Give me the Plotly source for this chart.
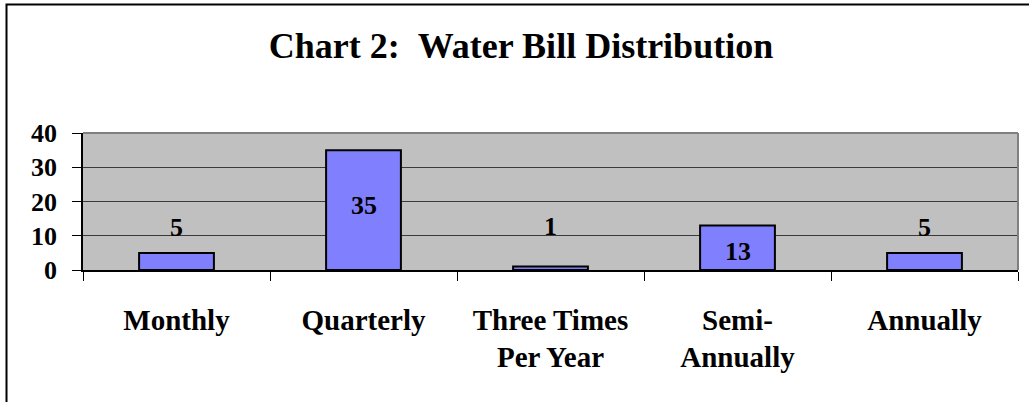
import plotly.graph_objects as go

categories = ["Monthly", "Quarterly", "Three Times<br>Per Year", "Semi-<br>Annually", "Annually"]
values = [5, 35, 1, 13, 5]
label_text = ["5", "35", "1", "13", "5"]
# pixel offsets of each data label relative to the bar top (style)
label_shift = [25, -55, 40, -26, 25]

W, H = 1029, 402
L, R, T, B = 83, 11, 133, 132
FONT = "Liberation Serif"

fig = go.Figure()
fig.add_trace(go.Bar(
    x=categories, y=values, width=0.4,
    marker=dict(color="#8080FF", line=dict(color="black", width=2)),
    hoverinfo="skip",
))

for c, v, t, s in zip(categories, values, label_text, label_shift):
    fig.add_annotation(x=c, y=v, text=t, showarrow=False, yshift=s,
                       yanchor="middle", xanchor="center",
                       font=dict(family=FONT, size=26, color="black", weight="bold"))

pw = W - L - R
ph = H - T - B


def px(x):
    return (x - L) / pw


def py(y):
    return (H - B - y) / ph


# outer chart border
fig.add_shape(type="rect", xref="paper", yref="paper",
              x0=px(6.5), x1=px(1040), y0=py(420), y1=py(4.5),
              line=dict(color="black", width=2), fillcolor="rgba(0,0,0,0)")
# gray plot-area border top and right
fig.add_shape(type="line", xref="paper", yref="paper", x0=0, x1=1, y0=1, y1=1,
              line=dict(color="#808080", width=2))
fig.add_shape(type="line", xref="paper", yref="paper", x0=1, x1=1, y0=0, y1=1,
              line=dict(color="#808080", width=2))

fig.update_layout(
    width=W, height=H,
    margin=dict(l=L, r=R, t=T, b=B, autoexpand=False),
    paper_bgcolor="white", plot_bgcolor="#C0C0C0",
    showlegend=False,
    title=dict(text="Chart 2:\u00a0\u00a0Water Bill Distribution",
               x=521 / W, xref="container", xanchor="center",
               y=1 - 45 / H, yref="container", yanchor="middle",
               font=dict(family=FONT, size=36, color="black", weight="bold")),
)
fig.update_xaxes(
    type="category", showgrid=False, showline=True, linecolor="black", linewidth=1.5,
    ticks="outside", tickson="boundaries", ticklen=9, tickcolor="black",
    tickfont=dict(family=FONT, size=29, color="black", weight="bold"),
    ticklabelstandoff=23, automargin=False,
)
fig.update_yaxes(
    range=[0, 40], dtick=10, tick0=0, showgrid=True, gridcolor="#3a3a3a", gridwidth=1,
    showline=True, linecolor="black", linewidth=1.5,
    ticks="outside", ticklen=9, tickcolor="black",
    tickfont=dict(family=FONT, size=26, color="black", weight="bold"),
    ticklabelstandoff=10, zeroline=False, automargin=False,
)

fig.write_html("out.html", config={"displayModeBar": False},
               post_script="document.body.style.margin='0';")
